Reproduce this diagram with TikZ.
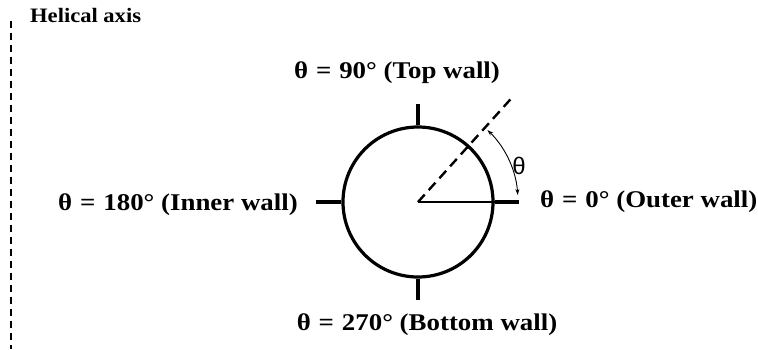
\documentclass[tikz,border=0pt]{standalone}
\usepackage{fontspec}
\setmainfont{Liberation Serif}
\newfontfamily\thsans{Liberation Sans}
\usetikzlibrary{arrows.meta}
\newcommand{\eqsp}{\hspace{0.33em}=\hspace{0.33em}}
\begin{document}
\begin{tikzpicture}[x=1pt,y=-1pt,
  lbl/.style={font=\bfseries\fontsize{24}{27}\selectfont\addfontfeature{FakeStretch=1.12}, inner sep=0pt},
  tick/.style={line width=3.8pt}]
\useasboundingbox (0,0) rectangle (758,349);
\coordinate (c) at (418,202);
\node[draw, circle, line width=3.2pt, minimum size=150pt, inner sep=0pt] (circ) at (c) {};
\draw[tick] (circ.north) -- ++(0,-21) coordinate (tt);
\draw[tick] (circ.south) -- ++(0,21) coordinate (tb);
\draw[tick] (circ.west) -- ++(-25,0) coordinate (tl);
\draw[tick] (circ.east) -- ++(24,0) coordinate (tr);
\draw[line width=2.2pt] (c) -- (circ.east);
\draw[line width=2.4pt, dash pattern=on 10pt off 6pt] (c) -- ++(-48:139) coordinate (dend);
\draw[line width=0.9pt, {Stealth[length=6pt,width=4pt]}-{Stealth[length=6pt,width=4pt]}] (c) ++(-46:100) arc[start angle=-46, end angle=-4, radius=100];
\node[font=\thsans\fontsize{24}{26}\selectfont, inner sep=0pt] (th) at (519,166) {θ};
\node[lbl, anchor=east] (l180) at (298,205) {θ\eqsp180° (Inner wall)};
\node[lbl, anchor=west] (l0) at (540,202) {θ\eqsp0° (Outer wall)};
\node[lbl] (l90) at (397,73) {θ\eqsp90° (Top wall)};
\node[lbl] (l270) at (427,325) {θ\eqsp270° (Bottom wall)};
\node[font=\bfseries\fontsize{20.5}{22}\selectfont\addfontfeature{FakeStretch=1.1}, inner sep=0pt, anchor=west] (ha) at (30,15) {Helical axis};
\coordinate (a1) at (11,21);
\coordinate (a2) at (11,349);
\draw[line width=2.2pt, dash pattern=on 7pt off 5pt] (a1) -- (a2);
\end{tikzpicture}
\end{document}
